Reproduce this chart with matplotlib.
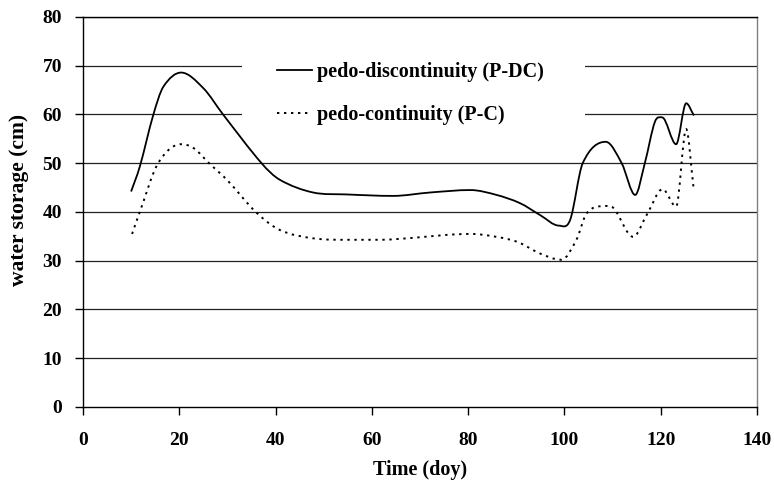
import matplotlib
matplotlib.use("Agg")
import matplotlib.pyplot as plt
from matplotlib.path import Path
from matplotlib.patches import PathPatch, Rectangle
from matplotlib.lines import Line2D
import numpy as np

plt.rcParams['font.family'] = ['Liberation Serif', 'DejaVu Serif']
plt.rcParams['font.weight'] = 'bold'

# Data
doy_pdc = [10, 11.8, 14.6, 16.7, 20.4, 25, 29.1, 37.1, 40.9, 47.8, 54.8, 64.4, 72.1, 80.5, 85.9,
           90.8, 94.9, 98.9, 101.2, 103.8, 108.6, 111.9, 114.7, 116.7, 118.8, 120.3, 123.2, 125.3, 126.9]
ws_pdc = [44.2, 49.3, 59.9, 65.7, 68.6, 65.4, 60, 50, 46.6, 44.0, 43.6, 43.3, 44.0, 44.5, 43.5,
          41.8, 39.4, 37.2, 38.4, 50, 54.4, 50, 43.5, 50, 58.5, 59.4, 53.9, 62.3, 59.8]

doy_pc = [10.2, 11.8, 15.6, 20.4, 23, 26.2, 30, 35.9, 40.9, 47.8, 54.8, 61.7, 68.6, 75.5, 80.5,
          85.9, 90.4, 94.9, 99.4, 102.5, 104.6, 108.1, 110.2, 114.3, 117.2, 120.4, 123.2, 125.3, 126.8]
ws_pc = [35.5, 40, 50, 53.9, 53.1, 50, 46.5, 40, 36.3, 34.6, 34.3, 34.3, 34.7, 35.3, 35.5,
         34.9, 33.8, 31.5, 30.2, 34.3, 39.7, 41.2, 40.8, 34.9, 39.6, 44.7, 41.1, 57.0, 45.2]

labels = ['pedo-discontinuity (P-DC)', 'pedo-continuity (P-C)']
x_ticks = [0, 20, 40, 60, 80, 100, 120, 140]
y_ticks = [0, 10, 20, 30, 40, 50, 60, 70, 80]


def smooth_path(xs, ys):
    """Smoothed line (cubic Hermite segments drawn as Bezier curves), flat at local extrema."""
    x = np.asarray(xs, float)
    y = np.asarray(ys, float)
    n = len(x)
    m = np.zeros(n)
    for i in range(n):
        if i == 0:
            m[i] = (y[1] - y[0]) / (x[1] - x[0])
        elif i == n - 1:
            m[i] = (y[-1] - y[-2]) / (x[-1] - x[-2])
        else:
            if (y[i] - y[i - 1]) * (y[i + 1] - y[i]) <= 0:
                m[i] = 0.0
            else:
                m[i] = (y[i + 1] - y[i - 1]) / (x[i + 1] - x[i - 1])
    verts = [(x[0], y[0])]
    codes = [Path.MOVETO]
    for i in range(n - 1):
        h = x[i + 1] - x[i]
        verts += [(x[i] + h / 3, y[i] + m[i] * h / 3),
                  (x[i + 1] - h / 3, y[i + 1] - m[i + 1] * h / 3),
                  (x[i + 1], y[i + 1])]
        codes += [Path.CURVE4] * 3
    return Path(verts, codes)


fig = plt.figure(figsize=(7.74, 4.84), dpi=100)
ax = fig.add_axes([0.1072, 0.1591, 0.8708, 0.8058])

ax.set_xlim(0, 140)
ax.set_ylim(0, 80)
ax.set_xticks(x_ticks)
ax.set_yticks(y_ticks)
ax.tick_params(direction='out', length=6, width=1, labelsize=14)
ax.tick_params(axis='y', pad=9)
ax.tick_params(axis='x', pad=12)
for s in ax.spines.values():
    s.set_linewidth(1)
ax.spines['right'].set_color('#808080')

for yv in y_ticks[1:]:
    ax.axhline(yv, color='#222222', lw=0.9, zorder=1)

# white legend background hiding the gridlines
ax.add_patch(Rectangle((0.236, 0.697), 0.509, 0.23, transform=ax.transAxes,
                       facecolor='white', edgecolor='none', zorder=2))

ax.add_patch(PathPatch(smooth_path(doy_pdc, ws_pdc), facecolor='none', edgecolor='black',
                       lw=1.3, zorder=3))
ax.add_patch(PathPatch(smooth_path(doy_pc, ws_pc), facecolor='none', edgecolor='black',
                       lw=1.4, linestyle=(0, (1.2, 2.4)), zorder=3))

handles = [Line2D([], [], color='black', lw=1.3),
           Line2D([], [], color='black', lw=1.4, linestyle=(0, (1.2, 2.4)))]
leg = ax.legend(handles, labels, loc='upper left', bbox_to_anchor=(0.288, 0.885),
                frameon=False, fontsize=14.5, handlelength=1.74, handletextpad=0.25,
                labelspacing=1.15, borderaxespad=0, borderpad=0)
leg.set_zorder(4)

ax.set_xlabel('Time (doy)', fontsize=14.5, fontweight='bold', labelpad=8)
ax.set_ylabel('water storage (cm)', fontsize=15.5, fontweight='bold')
ax.yaxis.set_label_coords(-0.080, 0.531)

fig.savefig('out.png', dpi=100)
